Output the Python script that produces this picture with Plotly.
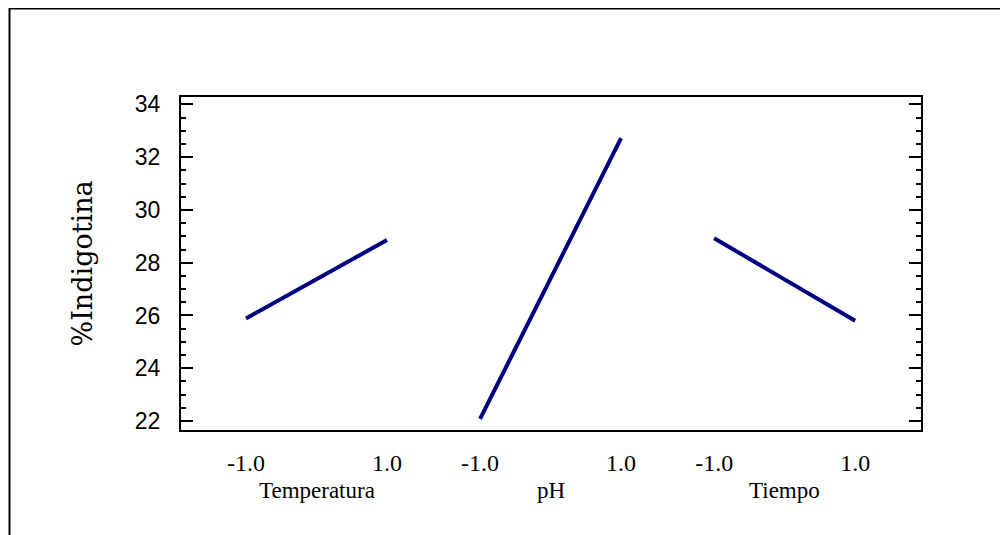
import plotly.graph_objects as go

# ---- data ----
factors = ["Temperatura", "pH", "Tiempo"]
levels = [-1.0, 1.0]
level_labels = ["-1.0", "1.0"]
low_values = [25.89, 22.08, 28.93]    # %Indigotina at level -1
high_values = [28.86, 32.72, 25.80]   # %Indigotina at level +1

y_title = "%Indigotina"

# ---- layout helpers ----
segment_offsets = [0.0, 3.32, 6.64]   # horizontal placement of each factor block
line_color = "#000080"

# page body margin offset (the figure div sits 8px from page corner)
OFF = 8
W, H = 1008 - OFF, 535 - OFF
# plot area in page pixels: left 181, right 921, top 97, bottom 430
L = 181 - OFF
T = 97 - OFF
R = W - (921 - OFF)
B = H - (430 - OFF)
pw, ph = W - L - R, H - T - B

def px_to_paper_x(px):   # px in page coords
    return (px - OFF - L) / pw

def px_to_paper_y(py):
    return (H - B - (py - OFF)) / ph

fig = go.Figure()

tickvals, ticktext = [], []
for f, off, lo, hi in zip(factors, segment_offsets, low_values, high_values):
    xs = [off + (lv + 1.0) for lv in levels]
    fig.add_trace(go.Scatter(
        x=xs, y=[lo, hi], mode="lines",
        line=dict(color=line_color, width=4),
        name=f, showlegend=False, hoverinfo="skip"))
    tickvals += xs
    ticktext += level_labels

annotations = []
for f, off in zip(factors, segment_offsets):
    annotations.append(dict(
        x=off + 1.0, y=px_to_paper_y(490), xref="x", yref="paper",
        text=f, showarrow=False, xanchor="center", yanchor="middle",
        font=dict(family="Liberation Serif", size=23, color="black")))

annotations.append(dict(
    x=px_to_paper_x(82), y=0.5, xref="paper", yref="paper",
    text=y_title, textangle=-90, showarrow=False,
    xanchor="center", yanchor="middle",
    font=dict(family="DejaVu Serif", size=27, color="black")))

# outer border (left and top lines)
x_left = px_to_paper_x(9.5)
x_right = px_to_paper_x(1012)
y_top = px_to_paper_y(8.5)
y_bot = px_to_paper_y(540)
shapes = [dict(type="path", xref="paper", yref="paper",
               path=f"M {x_left},{y_bot} L {x_left},{y_top} L {x_right},{y_top}",
               line=dict(color="black", width=2))]

fig.update_layout(
    width=W, height=H,
    margin=dict(l=L, r=R, t=T, b=B, pad=0),
    paper_bgcolor="white", plot_bgcolor="white",
    annotations=annotations, shapes=shapes,
    showlegend=False,
)

fig.update_xaxes(
    range=[-0.922, 9.574],
    tickmode="array", tickvals=tickvals, ticktext=ticktext,
    ticks="", showgrid=False, zeroline=False,
    showline=True, linecolor="black", linewidth=2, mirror=True,
    tickfont=dict(family="Liberation Serif", size=24, color="black"),
    ticklabelstandoff=10,
)

fig.update_yaxes(
    range=[21.66, 34.28],
    tickmode="linear", tick0=22, dtick=2,
    ticks="inside", ticklen=12, tickwidth=2, tickcolor="black",
    minor=dict(ticks="inside", dtick=0.5, ticklen=5, tickwidth=2, tickcolor="black", showgrid=False),
    showgrid=False, zeroline=False,
    showline=True, linecolor="black", linewidth=2, mirror="ticks",
    tickfont=dict(family="Liberation Sans Narrow, Liberation Sans", size=23, color="black"),
    ticklabelstandoff=14,
)

fig.write_html("out.html")
